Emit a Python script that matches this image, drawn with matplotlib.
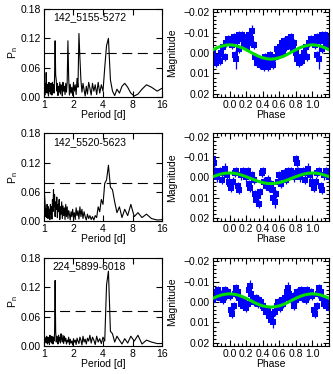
import numpy as np
import matplotlib
matplotlib.use('Agg')
import matplotlib.pyplot as plt
from matplotlib.ticker import FixedLocator, MultipleLocator, NullLocator

plt.rcParams['font.family'] = ['Liberation Sans', 'DejaVu Sans']
plt.rcParams['font.size'] = 7.5
plt.rcParams['mathtext.fontset'] = 'custom'
plt.rcParams['mathtext.rm'] = 'Liberation Sans'

# periodograms, power on a uniform frequency grid 0.06 .. 1.00 c/d
freq = np.round(np.arange(0.06, 1.0001, 0.01), 2)

pow_a = [0.020, 0.012, 0.020, 0.025, 0.016, 0.006, 0.002, 0.008, 0.020, 0.028,
         0.022, 0.008, 0.016, 0.003, 0.012, 0.035, 0.120, 0.105, 0.060, 0.012,
         0.025, 0.008, 0.030, 0.005, 0.025, 0.012, 0.028, 0.004, 0.018, 0.030,
         0.006, 0.022, 0.002, 0.015, 0.028, 0.010, 0.035, 0.080, 0.130, 0.020,
         0.038, 0.005, 0.025, 0.012, 0.030, 0.003, 0.020, 0.008, 0.026, 0.004,
         0.040, 0.115, 0.030, 0.010, 0.028, 0.005, 0.022, 0.012, 0.030, 0.002,
         0.018, 0.025, 0.006, 0.030, 0.010, 0.022, 0.003, 0.028, 0.012, 0.035,
         0.045, 0.115, 0.040, 0.008, 0.025, 0.010, 0.030, 0.004, 0.020, 0.028,
         0.006, 0.024, 0.012, 0.030, 0.002, 0.018, 0.026, 0.008, 0.022, 0.050,
         0.010, 0.028, 0.004, 0.020, 0.032]
pow_b = [0.004, 0.003, 0.006, 0.015, 0.008, 0.018, 0.010, 0.035, 0.012, 0.025,
         0.008, 0.030, 0.018, 0.040, 0.065, 0.070, 0.115, 0.085, 0.078, 0.035,
         0.045, 0.020, 0.030, 0.008, 0.012, 0.003, 0.010, 0.004, 0.012, 0.006,
         0.015, 0.003, 0.010, 0.020, 0.006, 0.025, 0.010, 0.030, 0.005, 0.022,
         0.012, 0.028, 0.004, 0.018, 0.008, 0.025, 0.010, 0.020, 0.003, 0.015,
         0.022, 0.006, 0.030, 0.010, 0.035, 0.004, 0.028, 0.012, 0.032, 0.006,
         0.040, 0.015, 0.030, 0.004, 0.045, 0.020, 0.035, 0.008, 0.050, 0.025,
         0.040, 0.010, 0.055, 0.030, 0.065, 0.020, 0.045, 0.005, 0.030, 0.015,
         0.035, 0.004, 0.025, 0.012, 0.030, 0.006, 0.020, 0.035, 0.008, 0.025,
         0.010, 0.030, 0.045, 0.060, 0.082]
pow_c = [0.005, 0.005, 0.008, 0.012, 0.004, 0.022, 0.010, 0.020, 0.006, 0.015,
         0.004, 0.012, 0.020, 0.008, 0.025, 0.030, 0.153, 0.125, 0.010, 0.018,
         0.005, 0.015, 0.008, 0.020, 0.003, 0.012, 0.018, 0.006, 0.022, 0.010,
         0.016, 0.004, 0.014, 0.008, 0.020, 0.002, 0.012, 0.018, 0.005, 0.010,
         0.016, 0.003, 0.012, 0.008, 0.015, 0.002, 0.010, 0.006, 0.014, 0.003,
         0.018, 0.008, 0.012, 0.004, 0.016, 0.010, 0.020, 0.005, 0.022, 0.008,
         0.015, 0.025, 0.006, 0.018, 0.010, 0.022, 0.004, 0.015, 0.020, 0.008,
         0.030, 0.134, 0.025, 0.010, 0.018, 0.004, 0.014, 0.020, 0.006, 0.016,
         0.010, 0.022, 0.003, 0.015, 0.008, 0.018, 0.004, 0.012, 0.020, 0.006,
         0.014, 0.010, 0.018, 0.004, 0.012]
fap = [0.090, 0.078, 0.072]
names = ['142_5155-5272', '142_5520-5623', '224_5899-6018']

# folded light curves (phase 0..1), magnitudes
ph_a = [0.00, 0.02, 0.03, 0.05, 0.06, 0.08, 0.09, 0.11, 0.12, 0.14, 0.15, 0.17, 0.18, 0.20,
        0.21, 0.23, 0.24, 0.26, 0.27, 0.29, 0.31, 0.33, 0.35, 0.37, 0.39, 0.41, 0.43, 0.45,
        0.47, 0.49, 0.51, 0.53, 0.55, 0.57, 0.59, 0.61, 0.63, 0.64, 0.66, 0.68, 0.70, 0.72,
        0.74, 0.76, 0.78, 0.80, 0.82, 0.84, 0.86, 0.88, 0.90, 0.92, 0.94, 0.96, 0.98]
mag_a = [-0.006, -0.007, -0.004, -0.008, 0.001, 0.003, -0.006, -0.009, -0.002, -0.007,
         -0.009, -0.004, -0.008, -0.006, -0.003, -0.009, -0.005, -0.007, -0.011, -0.004,
         0.002, 0.005, 0.003, 0.006, 0.004, 0.007, 0.002, 0.005, 0.007, 0.001,
         0.004, 0.006, 0.002, -0.002, 0.001, -0.003, -0.005, 0.000, -0.006, -0.003,
         -0.007, -0.004, -0.008, -0.002, -0.005, 0.000, 0.003, 0.005, 0.002, 0.004,
         0.000, -0.003, 0.002, -0.005, -0.007]
big_a = {0.08: 0.005, 0.27: 0.0025}

ph_b = [0.00, 0.02, 0.04, 0.06, 0.08, 0.10, 0.12, 0.14, 0.16, 0.18, 0.20, 0.22, 0.24, 0.25,
        0.27, 0.29, 0.31, 0.32, 0.34, 0.35, 0.37, 0.39, 0.40, 0.42, 0.44, 0.46, 0.48, 0.50,
        0.52, 0.53, 0.55, 0.56, 0.58, 0.60, 0.62, 0.64, 0.66, 0.68, 0.70, 0.72, 0.74, 0.76,
        0.78, 0.80, 0.81, 0.83, 0.85, 0.87, 0.89, 0.91, 0.93, 0.95, 0.97, 0.99]
mag_b = [0.003, 0.005, 0.002, -0.002, -0.003, 0.004, 0.006, -0.001, -0.003, -0.002,
         0.000, -0.003, 0.003, 0.005, -0.001, 0.001, 0.008, 0.011, 0.009, 0.013,
         0.007, -0.002, -0.003, 0.002, 0.004, 0.001, 0.005, 0.003, 0.006, 0.010,
         0.012, 0.008, 0.002, -0.001, 0.003, 0.000, -0.002, 0.001, -0.003, -0.001,
         -0.003, -0.002, 0.000, -0.009, -0.007, -0.003, 0.000, -0.002, -0.003, 0.001,
         -0.002, -0.004, -0.001, 0.002]
big_b = {0.95: 0.003, 0.55: 0.0028, 0.80: 0.002}

ph_c = [0.00, 0.02, 0.03, 0.05, 0.07, 0.08, 0.10, 0.12, 0.14, 0.16, 0.18, 0.20, 0.22, 0.23,
        0.25, 0.26, 0.28, 0.30, 0.32, 0.34, 0.36, 0.38, 0.40, 0.42, 0.44, 0.46, 0.48, 0.50,
        0.51, 0.53, 0.55, 0.57, 0.59, 0.61, 0.63, 0.65, 0.67, 0.69, 0.70, 0.72, 0.74, 0.76,
        0.78, 0.80, 0.82, 0.84, 0.86, 0.88, 0.90, 0.92, 0.94, 0.96, 0.98]
mag_c = [-0.003, 0.004, 0.006, 0.002, -0.004, -0.007, -0.005, -0.002, 0.001, 0.002,
         -0.001, 0.003, 0.001, -0.006, -0.008, -0.004, -0.002, 0.000, -0.002, 0.001,
         -0.001, 0.000, 0.002, 0.003, 0.005, 0.004, 0.007, 0.009, 0.006, 0.010,
         0.005, 0.002, 0.000, 0.003, -0.001, 0.001, -0.002, -0.005, -0.007, -0.004,
         -0.001, -0.003, 0.002, -0.001, -0.005, -0.003, -0.006, -0.002, -0.004, -0.001,
         -0.006, -0.003, -0.005]
big_c = {0.25: 0.0028, 0.53: 0.0025, 0.70: 0.0028}

# fitted sine, read at phase steps of 0.05
ph_mod = np.round(np.arange(0, 1.0001, 0.05), 2)
mod_a = [-0.0040, -0.0038, -0.0033, -0.0026, -0.0016, -0.0005, 0.0006, 0.0016, 0.0023, 0.0028,
         0.0030, 0.0028, 0.0023, 0.0016, 0.0006, -0.0005, -0.0016, -0.0026, -0.0033, -0.0038, -0.0040]
mod_b = [-0.0022, -0.0021, -0.0017, -0.0011, -0.0004, 0.0004, 0.0012, 0.0019, 0.0025, 0.0029,
         0.0030, 0.0029, 0.0025, 0.0019, 0.0012, 0.0004, -0.0004, -0.0011, -0.0017, -0.0021, -0.0022]
mod_c = [-0.0040, -0.0038, -0.0034, -0.0027, -0.0018, -0.0008, 0.0003, 0.0012, 0.0019, 0.0023,
         0.0025, 0.0023, 0.0019, 0.0012, 0.0003, -0.0008, -0.0018, -0.0027, -0.0034, -0.0038, -0.0040]

fig = plt.figure(figsize=(3.33, 3.74), dpi=100)

def pgram(ax, power, level, name):
    ax.plot(1.0 / freq, power, color='k', lw=0.8)
    ax.axhline(level, color='k', lw=0.8, ls=(0, (9, 5)))
    ax.set_xscale('log', base=2)
    ax.set_xlim(1, 16)
    ax.set_ylim(0, 0.18)
    ax.xaxis.set_major_locator(FixedLocator([1, 2, 4, 8, 16]))
    ax.set_xticklabels(['1', '2', '4', '8', '16'])
    ax.xaxis.set_minor_locator(NullLocator())
    ax.set_yticks([0, 0.06, 0.12, 0.18])
    ax.set_yticklabels(['0.00', '0.06', '0.12', '0.18'])
    ax.tick_params(direction='in', top=True, right=True, length=4, width=0.8, pad=2)
    ax.set_xlabel('Period [d]', labelpad=0)
    ax.set_ylabel(r'P$_\mathrm{n}$')
    ax.yaxis.set_label_coords(-0.2, 0.5)
    ax.text(0.075, 0.96, name, transform=ax.transAxes, va='top', ha='left')

def lcurve(ax, ph, mag, big, model):
    ph = np.array(ph)
    mag = np.array(mag)
    err = np.array([big.get(p, 0.002) for p in ph])
    lo = ph >= 0.78
    hi = ph <= 0.22
    x = np.concatenate([ph[lo] - 1, ph, ph[hi] + 1])
    y = np.concatenate([mag[lo], mag, mag[hi]])
    e = np.concatenate([err[lo], err, err[hi]])
    ax.errorbar(x, y, yerr=e, fmt='s', color='blue', ms=4.3, mew=0,
                elinewidth=0.9, capsize=1.6, capthick=0.9, zorder=2)
    m = np.array(model)
    ax.plot(np.concatenate([ph_mod - 1, ph_mod, ph_mod + 1]),
            np.concatenate([m, m, m]), color='#00e000', lw=2.2, zorder=5)
    ax.set_xlim(-0.2, 1.2)
    ax.set_ylim(0.0215, -0.0215)
    ax.set_xticks([0, 0.2, 0.4, 0.6, 0.8, 1.0])
    ax.set_xticklabels(['0.0', '0.2', '0.4', '0.6', '0.8', '1.0'])
    ax.xaxis.set_minor_locator(MultipleLocator(0.05))
    ax.set_yticks([-0.02, -0.01, 0, 0.01, 0.02])
    ax.set_yticklabels(['\u22120.02', '\u22120.01', '0.00', '0.01', '0.02'])
    ax.yaxis.set_minor_locator(MultipleLocator(0.002))
    ax.tick_params(which='both', direction='in', top=True, right=True, width=0.8, pad=2)
    ax.tick_params(which='major', length=4)
    ax.tick_params(which='minor', length=2)
    ax.set_xlabel('Phase', labelpad=0)
    ax.set_ylabel('Magnitude')
    ax.yaxis.set_label_coords(-0.31, 0.5)

bottoms = [0.7406, 0.4078, 0.0749]
powers = [pow_a, pow_b, pow_c]
curves = [(ph_a, mag_a, big_a, mod_a), (ph_b, mag_b, big_b, mod_b), (ph_c, mag_c, big_c, mod_c)]
for k in range(3):
    axl = fig.add_axes([0.1321, bottoms[k], 0.3544, 0.2353])
    pgram(axl, powers[k], fap[k], names[k])
    axr = fig.add_axes([0.6396, bottoms[k], 0.3483, 0.2353])
    lcurve(axr, *curves[k])

fig.savefig('out.png', dpi=100)
